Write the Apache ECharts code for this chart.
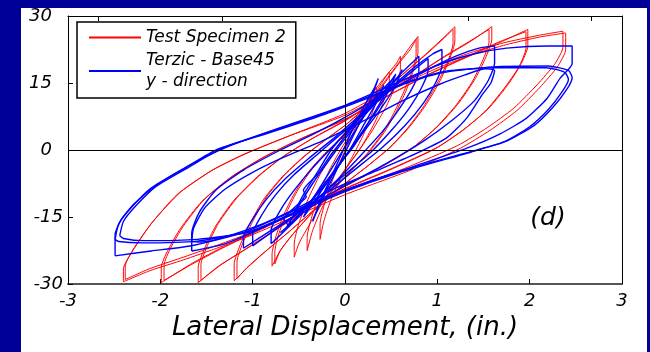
<!DOCTYPE html>
<html>
<head>
<meta charset="utf-8">
<script src="https://cdn.jsdelivr.net/npm/echarts@6/dist/echarts.min.js"></script>
<style>
  html, body { margin: 0; padding: 0; background: #000099; }
  #chart { width: 650px; height: 352px; }
</style>
</head>
<body>
<div id="chart"></div>
<script>
// Hysteresis loops, lateral force vs lateral displacement (in.)
// red = Test Specimen 2, blue = Terzic - Base45 y-direction

const xTicks = [-3, -2, -1, 0, 1, 2, 3];
const yTicks = [-30, -15, 0, 15, 30];
const topTicks = [-2.667, -1.333, 1.333, 2.667];

const redName  = 'Test Specimen 2';
const blueName = 'Terzic - Base45\ny - direction';

// ── red loops (two cycles per amplitude) ──
const redLoop5a = [[-2.40,-29.5],[-2.40,-26.6],[-2.30,-22.6],[-2.11,-16.8],[-1.82,-10.0],[-1.46,-4.8],[-1.10,-1.0],[-0.60,3.2],[0.00,7.8],[0.67,15.2],[1.03,18.6],[1.39,21.4],[1.75,23.6],[2.11,25.3],[2.39,26.2],[2.39,22.5],[2.30,18.6],[2.11,14.0],[1.86,8.8],[1.57,4.4],[1.25,0.4],[0.70,-4.6],[0.00,-10.0],[-0.67,-16.0],[-1.03,-19.2],[-1.39,-22.0],[-1.75,-24.6],[-2.11,-27.0],[-2.40,-29.5]];
const redLoop5b = [[-2.38,-29.0],[-2.38,-26.0],[-2.28,-21.8],[-2.08,-16.0],[-1.78,-9.4],[-1.42,-4.3],[-1.05,-0.6],[-0.55,3.6],[0.00,8.2],[0.65,15.6],[1.00,19.0],[1.36,21.8],[1.72,24.0],[2.08,25.6],[2.36,26.6],[2.36,23.0],[2.27,19.2],[2.08,14.6],[1.83,9.4],[1.54,5.0],[1.22,1.0],[0.66,-4.0],[-0.04,-9.5],[-0.70,-15.5],[-1.06,-18.8],[-1.42,-21.6],[-1.78,-24.2],[-2.12,-26.6],[-2.38,-29.0]];
const redLoop4a = [[-1.99,-29.7],[-1.99,-26.3],[-1.92,-22.5],[-1.78,-17.5],[-1.55,-11.5],[-1.25,-6.3],[-0.90,-1.8],[-0.50,2.3],[0.00,6.8],[0.50,12.5],[0.90,16.8],[1.30,20.6],[1.65,23.8],[1.98,27.0],[1.98,23.3],[1.90,19.0],[1.75,14.2],[1.55,9.2],[1.30,4.8],[1.00,0.6],[0.50,-4.2],[0.00,-8.6],[-0.50,-13.5],[-0.90,-17.5],[-1.30,-21.5],[-1.65,-25.3],[-1.99,-29.7]];
const redLoop4b = [[-1.96,-29.2],[-1.96,-25.8],[-1.89,-22.0],[-1.75,-17.0],[-1.52,-11.0],[-1.22,-5.9],[-0.86,-1.4],[-0.46,2.7],[0.04,7.3],[0.53,12.9],[0.93,17.2],[1.33,21.0],[1.68,24.3],[1.96,26.5],[1.96,22.8],[1.88,18.5],[1.72,13.7],[1.52,8.7],[1.27,4.3],[0.97,0.2],[0.47,-4.6],[-0.03,-9.0],[-0.53,-14.0],[-0.93,-18.0],[-1.33,-22.0],[-1.66,-25.6],[-1.96,-29.2]];
const redLoop3a = [[-1.59,-29.7],[-1.59,-26.2],[-1.52,-22.0],[-1.40,-17.0],[-1.20,-11.2],[-0.95,-6.0],[-0.68,-1.6],[-0.35,2.6],[0.00,6.5],[0.40,12.0],[0.75,16.5],[1.05,20.5],[1.35,24.2],[1.59,27.6],[1.59,24.8],[1.52,20.5],[1.40,15.6],[1.22,10.2],[1.00,5.2],[0.75,0.8],[0.40,-3.6],[0.00,-8.0],[-0.40,-13.2],[-0.75,-17.8],[-1.05,-21.8],[-1.35,-25.8],[-1.59,-29.7]];
const redLoop3b = [[-1.56,-29.2],[-1.56,-25.6],[-1.49,-21.4],[-1.37,-16.4],[-1.17,-10.7],[-0.92,-5.6],[-0.65,-1.2],[-0.32,3.0],[0.03,7.0],[0.43,12.5],[0.78,17.0],[1.08,21.0],[1.37,24.6],[1.56,27.0],[1.56,24.2],[1.49,20.0],[1.37,15.0],[1.19,9.7],[0.97,4.7],[0.72,0.3],[0.37,-4.1],[-0.03,-8.5],[-0.43,-13.7],[-0.78,-18.3],[-1.08,-22.3],[-1.37,-26.0],[-1.56,-29.2]];
const redLoop2a = [[-1.20,-29.3],[-1.20,-25.5],[-1.14,-21.5],[-1.03,-16.5],[-0.88,-11.0],[-0.68,-6.0],[-0.45,-1.5],[-0.20,2.5],[0.00,5.5],[0.30,11.0],[0.60,16.5],[0.85,21.0],[1.05,24.8],[1.19,27.6],[1.19,24.4],[1.13,20.2],[1.03,15.5],[0.88,10.2],[0.70,5.2],[0.50,0.8],[0.25,-3.5],[0.00,-7.5],[-0.30,-12.8],[-0.60,-18.2],[-0.85,-22.5],[-1.05,-26.2],[-1.20,-29.3]];
const redLoop2b = [[-1.17,-28.8],[-1.17,-25.0],[-1.11,-21.0],[-1.00,-16.0],[-0.85,-10.5],[-0.65,-5.5],[-0.42,-1.1],[-0.17,2.9],[0.03,6.0],[0.33,11.5],[0.63,17.0],[0.88,21.4],[1.07,25.0],[1.17,27.0],[1.17,23.9],[1.11,19.7],[1.00,15.0],[0.85,9.7],[0.67,4.7],[0.47,0.3],[0.22,-4.0],[-0.03,-8.0],[-0.33,-13.3],[-0.63,-18.7],[-0.88,-23.0],[-1.06,-26.3],[-1.17,-28.8]];
const redLoop1a = [[-0.79,-26.0],[-0.79,-23.3],[-0.75,-19.5],[-0.67,-14.8],[-0.55,-9.8],[-0.40,-5.0],[-0.22,-0.8],[0.00,3.5],[0.20,9.0],[0.40,14.5],[0.58,19.5],[0.70,23.0],[0.79,25.4],[0.79,21.8],[0.74,17.8],[0.66,13.2],[0.55,8.4],[0.42,3.8],[0.26,-0.5],[0.05,-5.0],[-0.15,-9.5],[-0.35,-14.0],[-0.55,-18.5],[-0.70,-22.5],[-0.79,-26.0]];
const redLoop1b = [[-0.76,-25.5],[-0.76,-22.8],[-0.72,-19.0],[-0.64,-14.3],[-0.52,-9.3],[-0.37,-4.6],[-0.19,-0.4],[0.03,4.0],[0.23,9.5],[0.43,15.0],[0.60,19.8],[0.71,22.6],[0.77,24.8],[0.77,21.3],[0.72,17.3],[0.63,12.7],[0.52,7.9],[0.39,3.3],[0.23,-1.0],[0.02,-5.5],[-0.18,-10.0],[-0.38,-14.5],[-0.57,-19.0],[-0.70,-22.5],[-0.76,-25.5]];
const redLoop0a = [[-0.55,-24.0],[-0.55,-21.0],[-0.50,-16.5],[-0.40,-11.0],[-0.27,-5.5],[-0.12,-0.5],[0.05,5.0],[0.22,10.5],[0.40,15.5],[0.56,19.5],[0.60,21.0],[0.60,18.0],[0.54,14.0],[0.44,9.5],[0.30,4.5],[0.14,-0.5],[-0.04,-5.5],[-0.22,-11.0],[-0.38,-16.5],[-0.50,-21.0],[-0.55,-24.0]];
const redLoop0b = [[-0.41,-22.5],[-0.41,-19.5],[-0.36,-15.0],[-0.28,-10.0],[-0.18,-5.0],[-0.05,0.0],[0.10,5.0],[0.25,10.0],[0.38,14.5],[0.48,17.5],[0.48,15.0],[0.42,11.0],[0.33,6.5],[0.20,1.5],[0.05,-3.0],[-0.10,-7.5],[-0.25,-13.0],[-0.35,-18.0],[-0.41,-22.5]];
const redLoop0c = [[-0.27,-20.0],[-0.27,-16.5],[-0.22,-12.0],[-0.14,-7.0],[-0.04,-2.0],[0.07,3.0],[0.18,8.0],[0.28,12.0],[0.34,14.0],[0.34,11.5],[0.28,7.5],[0.19,3.0],[0.08,-1.5],[-0.04,-6.0],[-0.15,-11.0],[-0.23,-16.0],[-0.27,-20.0]];

// ── blue loops ──
const blueLoop5a = [[-2.49,-20.0],[-2.45,-16.5],[-2.32,-13.0],[-2.10,-8.5],[-1.73,-4.0],[-1.38,0.2],[-0.83,3.8],[-0.22,8.0],[0.30,12.0],[0.67,15.0],[1.05,17.3],[1.60,18.6],[2.20,18.8],[2.42,17.8],[2.46,16.2],[2.40,13.5],[2.25,9.5],[2.05,5.5],[1.75,2.0],[1.39,-0.2],[0.60,-4.7],[0.00,-9.0],[-0.50,-13.5],[-1.00,-18.0],[-1.60,-20.4],[-2.20,-20.8],[-2.45,-20.5],[-2.49,-20.0]];
const blueLoop5b = [[-2.49,-23.7],[-2.49,-19.0],[-2.42,-15.5],[-2.28,-12.0],[-2.05,-8.0],[-1.70,-3.6],[-1.30,0.5],[-0.70,5.0],[0.00,10.0],[0.50,14.5],[1.03,19.2],[1.39,21.5],[1.75,22.8],[2.20,23.3],[2.46,23.3],[2.46,19.3],[2.33,16.1],[2.19,11.6],[1.97,7.2],[1.68,3.6],[1.32,0.4],[0.70,-4.0],[0.00,-9.0],[-0.60,-14.0],[-1.10,-18.5],[-1.68,-21.5],[-2.10,-22.6],[-2.49,-23.7]];
const blueLoop5c = [[-2.44,-19.2],[-2.40,-16.0],[-2.27,-12.6],[-2.05,-8.2],[-1.68,-3.7],[-1.33,0.4],[-0.80,4.2],[-0.20,8.4],[0.32,12.4],[0.70,15.4],[1.08,17.6],[1.62,18.4],[2.18,18.4],[2.38,17.4],[2.42,15.8],[2.35,13.0],[2.20,9.0],[2.00,5.2],[1.72,1.8],[1.36,-0.5],[0.58,-5.1],[-0.02,-9.5],[-0.52,-14.0],[-1.02,-18.3],[-1.60,-20.0],[-2.18,-20.3],[-2.40,-19.8],[-2.44,-19.2]];
const blueLoop4a = [[-1.66,-20.5],[-1.64,-17.5],[-1.52,-13.0],[-1.30,-8.8],[-1.00,-5.0],[-0.65,-1.5],[-0.25,2.0],[0.20,6.5],[0.60,10.8],[1.00,14.5],[1.30,16.8],[1.52,18.2],[1.62,17.8],[1.58,15.0],[1.49,12.5],[1.32,7.2],[1.10,2.7],[0.75,-1.0],[0.30,-5.0],[-0.10,-8.5],[-0.50,-12.8],[-0.90,-16.6],[-1.30,-19.5],[-1.55,-20.6],[-1.66,-20.5]];
const blueLoop4b = [[-1.66,-22.6],[-1.66,-18.6],[-1.58,-14.0],[-1.40,-9.0],[-1.10,-4.5],[-0.70,0.0],[-0.30,4.0],[0.10,8.5],[0.50,13.5],[0.90,18.0],[1.20,21.0],[1.45,22.8],[1.62,23.3],[1.62,19.5],[1.55,15.5],[1.40,11.0],[1.15,6.5],[0.85,2.0],[0.45,-3.0],[0.00,-8.0],[-0.45,-13.0],[-0.90,-17.5],[-1.30,-21.0],[-1.66,-22.6]];
const blueLoop3a = [[-1.10,-22.0],[-1.10,-19.5],[-1.00,-15.5],[-0.85,-11.0],[-0.65,-6.5],[-0.40,-2.0],[-0.10,3.0],[0.20,8.5],[0.50,14.0],[0.75,18.5],[0.95,21.5],[1.05,22.5],[1.05,19.0],[0.98,15.0],[0.85,10.5],[0.65,5.5],[0.40,0.5],[0.10,-4.5],[-0.20,-9.5],[-0.50,-14.0],[-0.80,-18.0],[-1.10,-22.0]];
const blueLoop3b = [[-1.00,-21.5],[-1.00,-18.8],[-0.90,-14.5],[-0.75,-10.0],[-0.55,-5.5],[-0.30,-1.0],[-0.02,4.0],[0.25,9.0],[0.52,14.0],[0.75,18.0],[0.90,20.5],[0.90,17.8],[0.83,14.0],[0.70,9.5],[0.52,4.8],[0.28,-0.5],[0.00,-5.5],[-0.28,-10.5],[-0.55,-14.8],[-0.80,-18.5],[-1.00,-21.5]];
const blueLoop2a = [[-0.80,-21.0],[-0.80,-18.0],[-0.70,-13.5],[-0.55,-9.0],[-0.35,-4.0],[-0.10,1.5],[0.15,7.0],[0.40,12.5],[0.60,17.0],[0.75,20.0],[0.80,21.0],[0.80,17.5],[0.72,13.5],[0.58,9.0],[0.40,4.0],[0.18,-1.0],[-0.05,-6.0],[-0.30,-11.0],[-0.55,-16.0],[-0.80,-21.0]];
const blueCore1 = [[-0.55,-14.0],[-0.45,-10.0],[-0.30,-5.0],[-0.15,0.0],[0.05,5.0],[0.25,10.0],[0.45,14.5],[0.50,15.5],[0.42,12.0],[0.25,6.0],[0.10,1.0],[-0.05,-3.0],[-0.20,-7.5],[-0.40,-12.0],[-0.55,-14.0]];
const blueCore2 = [[-0.45,-15.0],[-0.35,-11.0],[-0.20,-6.0],[-0.05,-1.0],[0.10,4.0],[0.25,9.0],[0.38,13.0],[0.42,14.5],[0.35,11.0],[0.20,5.5],[0.05,0.0],[-0.10,-4.5],[-0.25,-9.0],[-0.38,-13.0],[-0.45,-15.0]];
const blueCore3 = [[-0.35,-16.0],[-0.28,-12.0],[-0.16,-6.5],[-0.04,-1.0],[0.08,4.5],[0.20,9.5],[0.32,14.0],[0.36,16.0],[0.30,12.5],[0.18,7.0],[0.05,1.5],[-0.08,-4.0],[-0.20,-9.0],[-0.30,-13.5],[-0.35,-16.0]];
const blueCore4 = [[-0.62,-17.0],[-0.50,-12.5],[-0.35,-7.5],[-0.18,-2.5],[0.00,2.5],[0.20,7.5],[0.40,12.0],[0.58,16.5],[0.62,18.0],[0.55,14.5],[0.38,9.0],[0.20,4.0],[0.02,-1.0],[-0.15,-5.5],[-0.33,-10.5],[-0.50,-14.5],[-0.62,-17.0]];
const blueCore5 = [[-0.70,-18.5],[-0.62,-16.8],[-0.66,-15.5],[-0.50,-12.0],[-0.42,-10.5],[-0.45,-9.0],[-0.30,-5.5],[-0.15,-1.0],[0.00,3.0],[0.15,7.0],[0.30,10.5],[0.42,13.0],[0.50,15.5],[0.55,17.0],[0.48,13.5],[0.35,9.0],[0.20,4.5],[0.05,0.0],[-0.10,-4.5],[-0.28,-9.0],[-0.45,-13.5],[-0.60,-16.8],[-0.70,-18.5]];

const redLoops  = [redLoop5a, redLoop5b, redLoop4a, redLoop4b, redLoop3a, redLoop3b,
                   redLoop2a, redLoop2b, redLoop1a, redLoop1b, redLoop0a, redLoop0b, redLoop0c];
const blueLoops = [blueLoop5a, blueLoop5b, blueLoop5c, blueLoop4a, blueLoop4b, blueLoop3a,
                   blueLoop3b, blueLoop2a, blueCore1, blueCore2, blueCore3, blueCore4, blueCore5];

const FONT = '"DejaVu Sans", Arial, sans-serif';
const RED = '#ff0000', BLUE = '#0000ff';

const chart = echarts.init(document.getElementById('chart'));

const zeroLines = {
  silent: true, symbol: 'none', label: { show: false },
  lineStyle: { color: '#000', width: 1, type: 'solid' },
  data: [{ xAxis: 0 }, { yAxis: 0 }],
};

const series = [];
redLoops.forEach((d, i) => series.push({
  name: redName, type: 'line', data: d, symbol: 'none', smooth: 0.2,
  itemStyle: { color: RED }, lineStyle: { color: RED, width: 1 }, z: 2,
  markLine: i === 0 ? zeroLines : undefined,
}));
blueLoops.forEach(d => series.push({
  name: blueName, type: 'line', data: d, symbol: 'none', smooth: 0.2,
  itemStyle: { color: BLUE }, lineStyle: { color: BLUE, width: 1.4 }, z: 3,
}));

const lbl = { color: '#000', fontSize: 18, fontStyle: 'italic', fontFamily: FONT };

chart.setOption({
  backgroundColor: '#000099',
  animation: false,
  graphic: { elements: [
    { type: 'rect', z: -10, silent: true, shape: { x: 21, y: 8, width: 626, height: 344 }, style: { fill: '#ffffff' } },
    { type: 'text', x: 548, y: 218, silent: true,
      style: { text: '(d)', fill: '#000', font: 'italic 25px ' + FONT, textAlign: 'center', textVerticalAlign: 'middle' } },
  ] },
  legend: {
    left: 77, top: 22, orient: 'vertical', selectedMode: false,
    backgroundColor: '#fff', borderColor: '#000', borderWidth: 1.5,
    padding: [5, 10, 6, 12], itemGap: 2, itemWidth: 52, itemHeight: 2, icon: 'rect',
    textStyle: { ...lbl, fontSize: 17, lineHeight: 21 },
    data: [redName, blueName],
  },
  grid: { left: 68, right: 28, top: 16, bottom: 68 },
  xAxis: [
    {
      type: 'value', min: xTicks[0], max: xTicks[xTicks.length - 1], interval: 1, position: 'bottom',
      axisLine: { onZero: false, lineStyle: { color: '#555', width: 2 } },
      axisTick: { inside: true, length: 5, lineStyle: { color: '#000' } },
      axisLabel: { ...lbl, margin: 8 },
      splitLine: { show: false },
      name: 'Lateral Displacement, (in.)', nameLocation: 'middle', nameGap: 31,
      nameTextStyle: { color: '#000', fontSize: 26, fontStyle: 'italic', fontFamily: FONT },
    },
    {
      type: 'value', min: xTicks[0], max: xTicks[xTicks.length - 1], position: 'top',
      axisLine: { onZero: false, lineStyle: { color: '#000', width: 1 } },
      axisTick: { inside: true, length: 5, customValues: topTicks, lineStyle: { color: '#000' } },
      axisLabel: { show: false }, splitLine: { show: false },
    },
  ],
  yAxis: [
    {
      type: 'value', min: yTicks[0], max: yTicks[yTicks.length - 1], interval: 15,
      axisLine: { onZero: false, lineStyle: { color: '#000', width: 1 } },
      axisTick: { inside: true, length: 5, lineStyle: { color: '#000' } },
      axisLabel: {
        ...lbl, margin: 5,
        formatter: v => v < 0 ? String(v) : '{p|' + v + '}',
        rich: { p: { ...lbl, padding: [0, 11, 0, 0] } },
      },
      splitLine: { show: false },
    },
    {
      type: 'value', min: yTicks[0], max: yTicks[yTicks.length - 1], position: 'right',
      axisLine: { show: true, onZero: false, lineStyle: { color: '#000', width: 1 } },
      axisTick: { show: false }, axisLabel: { show: false }, splitLine: { show: false },
    },
  ],
  series,
});
</script>
</body>
</html>
